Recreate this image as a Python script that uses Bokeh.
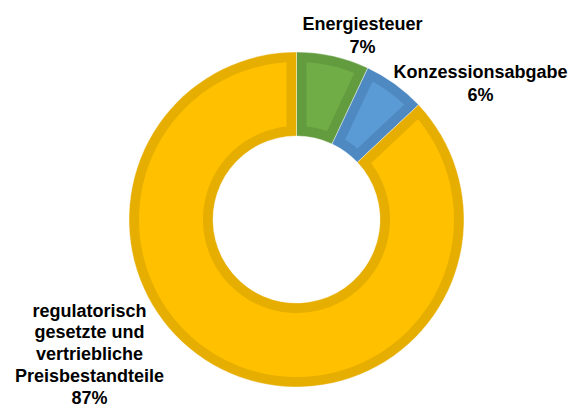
import numpy as np
from bokeh.plotting import figure
from bokeh.models import Range1d
from bokeh.core.properties import value
from bokeh.embed import file_html
from bokeh.resources import INLINE

# ---- data ----
categories = ["Energiesteuer", "Konzessionsabgabe",
              "regulatorisch gesetzte und vertriebliche Preisbestandteile"]
shares = [7, 6, 87]
label_lines = [["Energiesteuer"], ["Konzessionsabgabe"],
               ["regulatorisch", "gesetzte und", "vertriebliche", "Preisbestandteile"]]

# ---- styles / layout ----
fill_colors = ["#71AD47", "#5B9BD5", "#FFC000"]
border_colors = ["#639C3F", "#4F89C1", "#E6AE00"]
W, H = 582, 410
CX, CY = 296, 410 - 219
R_OUT, R_IN, BAND = 167.5, 83.5, 10
label_anchor = [(362, 410 - 23), (480, 410 - 71), (89, 410 - 310)]
label_sp = [23.2, 23.2, 21.8]
FONT = value("Liberation Sans")

p = figure(width=W, height=H, x_range=Range1d(0, W), y_range=Range1d(410 - H, 410),
           output_backend="svg", toolbar_location=None, min_border=0)
p.axis.visible = False
p.grid.visible = False
p.outline_line_color = None
p.background_fill_color = "white"
p.border_fill_color = "white"

total = float(sum(shares))
cum = np.concatenate([[0.0], np.cumsum(shares)]) / total
start_cw = np.pi / 2 - cum[:-1] * 2 * np.pi
end_cw = np.pi / 2 - cum[1:] * 2 * np.pi


def inset_polygon(a_lo, a_hi, r0, r1, b, n=120):
    ro, ri = r1 - b, r0 + b
    ao = np.linspace(a_lo + np.arcsin(b / ro), a_hi - np.arcsin(b / ro), n)
    ai = np.linspace(a_hi - np.arcsin(b / ri), a_lo + np.arcsin(b / ri), n)
    xs = np.concatenate([CX + ro * np.cos(ao), CX + ri * np.cos(ai)])
    ys = np.concatenate([CY + ro * np.sin(ao), CY + ri * np.sin(ai)])
    return xs, ys


# dark bands (full wedges)
p.annular_wedge(x=[CX] * 3, y=[CY] * 3, inner_radius=R_IN, outer_radius=R_OUT,
                start_angle=list(end_cw), end_angle=list(start_cw),
                fill_color=border_colors, line_color="white", line_alpha=0.5, line_width=0.8)

# lighter inner fills
xs_all, ys_all = [], []
for i in range(len(shares)):
    xs, ys = inset_polygon(end_cw[i], start_cw[i], R_IN, R_OUT, BAND)
    xs_all.append(list(xs))
    ys_all.append(list(ys))
p.patches(xs_all, ys_all, fill_color=fill_colors, line_color=None)

# labels
for i, lines in enumerate(label_lines):
    texts = lines + [f"{shares[i]}%"]
    x0, y0 = label_anchor[i]
    p.text(x=[x0] * len(texts), y=[y0 - k * label_sp[i] for k in range(len(texts))], text=texts,
           text_font=FONT, text_font_style="bold", text_font_size="18px",
           text_align="center", text_baseline="alphabetic", text_color="black")

open("out.html", "w").write(file_html(p, INLINE))
